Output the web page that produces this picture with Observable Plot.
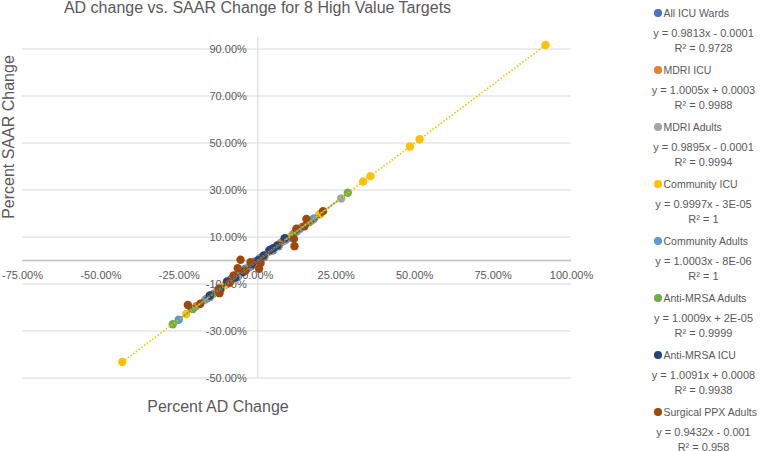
<!DOCTYPE html>
<html><head><meta charset="utf-8">
<script src="https://cdn.jsdelivr.net/npm/d3@7"></script>
<script src="https://cdn.jsdelivr.net/npm/@observablehq/plot@0.6"></script>
<style>
body{margin:0;background:#fff;}
#wrap{position:relative;width:760px;height:451px;font-family:"Liberation Sans",Arial,sans-serif;color:#595959;overflow:hidden;background:#fff}
#wrap svg{position:absolute;left:0;top:0}
.abs{position:absolute;white-space:nowrap}
</style>
</head><body>
<div id="wrap"></div>
<script>
const title = "AD change vs. SAAR Change for 8 High Value Targets";
const xTitle = "Percent AD Change";
const yTitle = "Percent SAAR Change";
const xTicks = [-0.75, -0.5, -0.25, 0, 0.25, 0.5, 0.75, 1.0];
const yTicks = [-0.5, -0.3, -0.1, 0.1, 0.3, 0.5, 0.7, 0.9];

const seriesNames = ["All ICU Wards","MDRI ICU","MDRI Adults","Community ICU","Community Adults","Anti-MRSA Adults","Anti-MRSA ICU","Surgical PPX Adults"];
const seriesColors = ["#4472C4","#ED7D31","#A5A5A5","#FFC000","#5B9BD5","#70AD47","#264478","#9E480E"];
const slopes = [0.9813, 1.0005, 0.9895, 0.9997, 1.0003, 1.0009, 1.0091, 0.9432];
const intercepts = [-0.0001, 0.0003, -0.0001, -0.00003, -0.000008, 0.00002, 0.0008, -0.001];
const equations = ["y = 0.9813x - 0.0001","y = 1.0005x + 0.0003","y = 0.9895x - 0.0001","y = 0.9997x - 3E-05","y = 1.0003x - 8E-06","y = 1.0009x + 2E-05","y = 1.0091x + 0.0008","y = 0.9432x - 0.001"];
const rSquared = ["R\u00B2 = 0.9728","R\u00B2 = 0.9988","R\u00B2 = 0.9994","R\u00B2 = 1","R\u00B2 = 1","R\u00B2 = 0.9999","R\u00B2 = 0.9938","R\u00B2 = 0.958"];

const allIcuX = [-0.118, -0.085, -0.062, -0.041, -0.022, -0.008, 0.006, 0.021, 0.035, 0.049, 0.066, 0.081, 0.104];
const allIcuY = [-0.121, -0.079, -0.066, -0.036, -0.025, -0.004, 0.009, 0.016, 0.038, 0.043, 0.061, 0.083, 0.099];
const mdriIcuX = [-0.196, -0.152, -0.118, -0.084, -0.051, -0.027, 0.012, 0.044, 0.073, 0.112, 0.141, 0.172, 0.200];
const mdriIcuY = [-0.194, -0.155, -0.116, -0.085, -0.049, -0.028, 0.014, 0.042, 0.075, 0.111, 0.143, 0.170, 0.199];
const mdriAdultsX = [-0.168, -0.131, -0.097, -0.064, -0.031, -0.009, 0.018, 0.052, 0.087, 0.126, 0.179, 0.266];
const mdriAdultsY = [-0.167, -0.130, -0.096, -0.064, -0.031, -0.009, 0.018, 0.051, 0.086, 0.124, 0.177, 0.264];
const commIcuX = [-0.432, -0.228, -0.105, -0.047, 0.022, 0.096, 0.196, 0.336, 0.359, 0.485, 0.516, 0.917];
const commIcuY = [-0.432, -0.228, -0.105, -0.047, 0.022, 0.096, 0.196, 0.336, 0.359, 0.485, 0.516, 0.917];
const commAdultsX = [-0.252, -0.161, -0.119, -0.072, -0.035, 0.004, 0.047, 0.091, 0.134, 0.179];
const commAdultsY = [-0.252, -0.161, -0.119, -0.072, -0.035, 0.004, 0.047, 0.091, 0.134, 0.179];
const amrsaAdultsX = [-0.271, -0.207, -0.143, -0.088, -0.041, 0.008, 0.063, 0.117, 0.163, 0.287];
const amrsaAdultsY = [-0.271, -0.207, -0.143, -0.088, -0.041, 0.008, 0.063, 0.117, 0.163, 0.288];
const amrsaIcuX = [-0.153, -0.121, -0.098, -0.072, -0.046, -0.019, 0.002, 0.019, 0.038, 0.049, 0.062, 0.086];
const amrsaIcuY = [-0.149, -0.124, -0.089, -0.073, -0.049, -0.016, 0.001, 0.021, 0.045, 0.052, 0.064, 0.095];
const surgX = [-0.223, -0.183, -0.124, -0.122, -0.090, -0.077, -0.064, -0.055, -0.039, -0.023, 0.004, 0.009, 0.115, 0.117, 0.123, 0.149, 0.155, 0.208];
const surgY = [-0.189, -0.184, -0.120, -0.139, -0.095, -0.064, -0.033, 0.003, -0.043, -0.007, -0.035, -0.011, 0.092, 0.061, 0.135, 0.146, 0.177, 0.210];

const xs = [allIcuX, mdriIcuX, mdriAdultsX, commIcuX, commAdultsX, amrsaAdultsX, amrsaIcuX, surgX];
const ys = [allIcuY, mdriIcuY, mdriAdultsY, commIcuY, commAdultsY, amrsaAdultsY, amrsaIcuY, surgY];

const points = [];
const trends = [];
seriesNames.forEach((s, i) => {
  xs[i].forEach((x, j) => points.push({series: s, x, y: ys[i][j]}));
  const [x0, x1] = d3.extent(xs[i]);
  trends.push({series: s, x: x0, y: slopes[i]*x0 + intercepts[i]});
  trends.push({series: s, x: x1, y: slopes[i]*x1 + intercepts[i]});
});

const pct = d => (d*100).toFixed(2) + "%";
const textColor = "#595959";

const chart = Plot.plot({
  width: 760, height: 451,
  marginLeft: 22, marginRight: 189, marginTop: 36.75, marginBottom: 73.5,
  style: {fontFamily: '"Liberation Sans", Arial, sans-serif', fontSize: "11px", background: "transparent"},
  x: {domain: [-0.75, 1.0], axis: null},
  y: {domain: [-0.5, 0.95], axis: null},
  color: {domain: seriesNames, range: seriesColors},
  marks: [
    Plot.ruleY(yTicks, {stroke: "#d9d9d9", strokeWidth: 1}),
    Plot.ruleY([0], {stroke: "#bfbfbf", strokeWidth: 1.5}),
    Plot.ruleX([0], {y1: -0.5, y2: 0.95, stroke: "#d9d9d9", strokeWidth: 1}),
    Plot.text(xTicks, {x: d => d, y: 0, dy: 15, text: pct, fill: textColor, fontSize: 11}),
    Plot.text(yTicks, {x: 0, y: d => d, dx: -11, textAnchor: "end", text: pct, fill: textColor, fontSize: 11}),
    Plot.dot(points, {x: "x", y: "y", fill: "series", r: 4.2, stroke: null}),
    Plot.line(trends, {x: "x", y: "y", z: "series", stroke: "series", strokeWidth: 1.6, strokeDasharray: "1.6 1.8", strokeLinecap: "butt"})
  ]
});

const wrap = document.getElementById("wrap");
wrap.appendChild(chart);

function addText(txt, css) {
  const d = document.createElement("div");
  d.className = "abs";
  d.textContent = txt;
  Object.assign(d.style, css);
  wrap.appendChild(d);
  return d;
}
addText(title, {left: "257.5px", top: "8px", transform: "translate(-50%,-50%)", fontSize: "16px", lineHeight: "18px"});
addText(yTitle, {left: "8.5px", top: "137px", transform: "translate(-50%,-50%) rotate(-90deg)", fontSize: "16px", lineHeight: "18px"});
addText(xTitle, {left: "218px", top: "407px", transform: "translate(-50%,-50%)", fontSize: "16px", lineHeight: "18px"});

const legendTops = [13, 70, 127, 184, 241, 298, 355, 412];
seriesNames.forEach((s, i) => {
  const cy = legendTops[i];
  const m = document.createElement("div");
  m.className = "abs";
  Object.assign(m.style, {left: (658-3.8)+"px", top: (cy-3.8)+"px", width: "7.6px", height: "7.6px", borderRadius: "50%", background: seriesColors[i]});
  wrap.appendChild(m);
  addText(s, {left: "663.5px", top: cy+"px", transform: "translateY(-50%)", fontSize: "10.5px", lineHeight: "13px"});
  addText(equations[i], {left: "703.5px", top: (cy+20)+"px", transform: "translate(-50%,-50%)", fontSize: "11px", lineHeight: "13px"});
  addText(rSquared[i], {left: "703.5px", top: (cy+35)+"px", transform: "translate(-50%,-50%)", fontSize: "11px", lineHeight: "13px"});
});
</script>
</body></html>
